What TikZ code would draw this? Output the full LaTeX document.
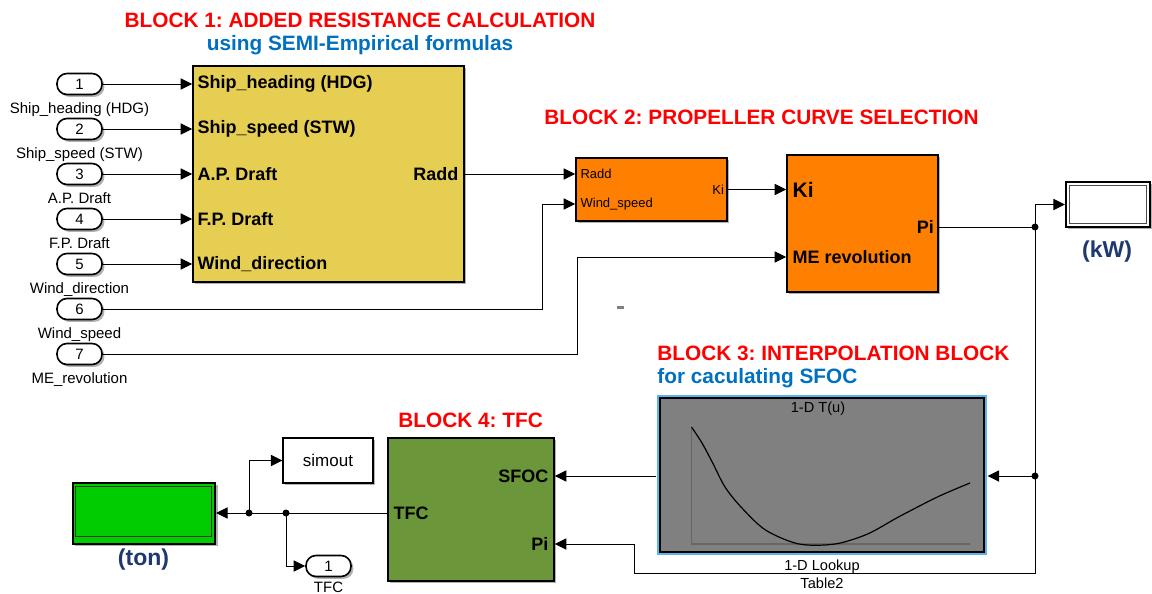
\documentclass[tikz,border=0pt]{standalone}
\usepackage{fontspec}
\setmainfont{Liberation Sans}
\usepackage{xcolor}
\usepackage{tikz}
\usetikzlibrary{arrows.meta, positioning, calc, shadows}
\frenchspacing

\definecolor{blkyellow}{RGB}{230,206,82}
\definecolor{blkorange}{RGB}{255,128,0}
\definecolor{blkgreen}{RGB}{107,151,58}
\definecolor{dispgreen}{RGB}{0,204,0}
\definecolor{lutgray}{RGB}{128,128,128}
\definecolor{lutblue}{RGB}{90,180,236}
\definecolor{titlered}{RGB}{255,0,0}
\definecolor{titleblue}{RGB}{0,112,192}
\definecolor{unitnavy}{RGB}{31,56,110}

\tikzset{
  sig/.style={line width=0.5pt, -{Triangle[length=5.8pt,width=5.6pt]}},
  wire/.style={line width=0.5pt},
  blk/.style={draw=black, line width=0.8pt, inner sep=0pt,
    drop shadow={shadow xshift=1.2pt, shadow yshift=-1.2pt, fill=black!60, opacity=0.5}},
  inport/.style={blk, fill=white, rounded corners=5pt, minimum width=22.5pt,
    minimum height=10.5pt, font=\fontsize{7.5}{9}\selectfont},
  portname/.style={font=\fontsize{7.5}{9}\selectfont, inner sep=0pt},
  blklbl/.style={font=\bfseries\fontsize{9}{10}\selectfont, inner sep=0pt},
  smalllbl/.style={font=\fontsize{6.5}{8}\selectfont, inner sep=0pt},
  title/.style={font=\bfseries\fontsize{10.4}{12}\selectfont, text=titlered, inner sep=0pt},
  subtitle/.style={title, text=titleblue},
  unit/.style={font=\bfseries\fontsize{11.5}{13}\selectfont, text=unitnavy, inner sep=0pt}
}

\begin{document}
\begin{tikzpicture}[x=0.5pt, y=-0.5pt]
		% Canvas
		\path[fill=white] (0,0) rectangle (1152,594);
		
		% Titles
		\node[title] (t1) at (360,20) {BLOCK 1: ADDED RESISTANCE CALCULATION};
		\node[subtitle] (s1) at (360,45) {using SEMI-Empirical formulas};
		\node[title, anchor=west] (t2) at (544,117) {BLOCK 2: PROPELLER CURVE SELECTION};
		\node[title, anchor=west] (t3) at (657,353) {BLOCK 3: INTERPOLATION BLOCK};
		\node[subtitle, anchor=west] (s3) at (657,378) {for caculating SFOC};
		\node[title, anchor=west] (t4) at (398,420) {BLOCK 4: TFC};
		
		% Inports
		\node[inport] (in1) at (79.5,84) {1};
		\node[inport] (in2) at (79.5,129) {2};
		\node[inport] (in3) at (79.5,174) {3};
		\node[inport] (in4) at (79.5,219) {4};
		\node[inport] (in5) at (79.5,264) {5};
		\node[inport] (in6) at (79.5,309) {6};
		\node[inport] (in7) at (79.5,354) {7};
		\node[portname, below=3.5pt of in1] (n1) {Ship\_heading (HDG)};
		\node[portname, below=3.5pt of in2] (n2) {Ship\_speed (STW)};
		\node[portname, below=3.5pt of in3] (n3) {A.P. Draft};
		\node[portname, below=3.5pt of in4] (n4) {F.P. Draft};
		\node[portname, below=3.5pt of in5] (n5) {Wind\_direction};
		\node[portname, below=3.5pt of in6] (n6) {Wind\_speed};
		\node[portname, below=3.5pt of in7] (n7) {ME\_revolution};
		
		% Block 1
		\node[blk, fill=blkyellow, minimum width=135.5pt, minimum height=108pt] (b1) at (328.5,174) {};
		\node[blklbl, anchor=west] (hdg) at ([xshift=2.5pt]b1.west |- in1) {Ship\_heading (HDG)};
		\node[blklbl, anchor=west] (stw) at ([xshift=2.5pt]b1.west |- in2) {Ship\_speed (STW)};
		\node[blklbl, anchor=west] (apd) at ([xshift=2.5pt]b1.west |- in3) {A.P. Draft};
		\node[blklbl, anchor=west] (fpd) at ([xshift=2.5pt]b1.west |- in4) {F.P. Draft};
		\node[blklbl, anchor=west] (wdir) at ([xshift=2.5pt]b1.west |- in5) {Wind\_direction};
		\node[blklbl, anchor=east] (raddout) at ([xshift=-3pt]b1.east) {Radd};
		\draw[sig] (in1) -- (in1 -| b1.west);
		\draw[sig] (in2) -- (in2 -| b1.west);
		\draw[sig] (in3) -- (in3 -| b1.west);
		\draw[sig] (in4) -- (in4 -| b1.west);
		\draw[sig] (in5) -- (in5 -| b1.west);
		
		% Block 2
		\node[blk, fill=blkorange, minimum width=75.5pt, minimum height=31.5pt] (b2a) at (651.5,189.5) {};
		\coordinate (ws) at (542,204);
		\node[smalllbl, anchor=west] (raddin) at ([xshift=2.5pt]b2a.west |- b1.east) {Radd};
		\node[smalllbl, anchor=west] (wsin) at ([xshift=2.5pt]b2a.west |- ws) {Wind\_speed};
		\node[smalllbl, anchor=east] (kiout) at ([xshift=-1.75pt]b2a.east) {Ki};
		\node[blk, fill=blkorange, minimum width=75.5pt, minimum height=68.5pt] (b2b) at (862.5,223.5) {};
		\coordinate (me) at (577,257);
		\coordinate (j1) at (1035,227);
		\node[blklbl, font=\bfseries\fontsize{10.5}{12}\selectfont, anchor=west] (kiin) at ([xshift=3pt]b2b.west |- b2a.east) {Ki};
		\node[blklbl, anchor=west] (mein) at ([xshift=3pt]b2b.west |- me) {ME revolution};
		\node[blklbl, anchor=east] (piout) at ([xshift=-2.25pt]b2b.east |- j1) {Pi};
		\fill[gray] (617,306) rectangle (624,308.5);
		
		% Scope
		\node[blk, fill=white, line width=1pt, minimum width=42pt, minimum height=22.5pt] (scope) at (1108,204.5) {};
		\draw[black!70, line width=0.5pt] ([shift={(4,4)}]scope.north west) rectangle ([shift={(-5,-4.5)}]scope.south east);
		\node[unit] (kw) at (1107,252) {(kW)};
		
		% Signals of blocks 1 and 2
		\draw[sig] (b1.east) -- (b1.east -| b2a.west);
		\draw[sig] (in6) -| (ws) -- (ws -| b2a.west);
		\draw[sig] (in7) -| (me) -- (me -| b2b.west);
		\draw[sig] (b2a.east) -- (b2a.east -| b2b.west);
		\draw[wire] (j1 -| b2b.east) -- (j1);
		\draw[sig] (j1) |- (scope.west);
		\fill (j1) circle (1.75pt);
		
		% Block 3
		\draw[lutblue, line width=1.5pt] (658.5,396.5) rectangle (985.5,553.5);
		\node[draw=black, line width=0.6pt, fill=lutgray, inner sep=0pt, minimum width=162pt, minimum height=77pt] (b3) at (822,475) {};
		\node[font=\fontsize{7.3}{9}\selectfont, inner sep=0pt] (lutname) at (818,409) {1-D T(u)};
		\draw[black!60, line width=0.8pt] (691.5,427) -- (691.5,544) -- (970,544);
		\draw[line width=0.6pt] plot[smooth, tension=0.5] coordinates {(691.5,427) (702,443) (712.7,463) (725,487) (741,507) (765.5,530) (799,544) (835,544) (867.6,534) (899,516.7) (938,496.7) (970,483)};
		\node[font=\fontsize{7.3}{9}\selectfont, inner sep=0pt, align=center] (lutlbl) at (822,574) {1-D Lookup\\Table2};
		
		% Block 4
		\node[blk, fill=blkgreen, minimum width=83pt, minimum height=71.5pt] (b4) at (471,509.5) {};
		\coordinate (j2) at (1035,476);
		\coordinate (lp) at (634,544);
		\coordinate (lb) at (634,573);
		\coordinate (d1) at (286,513);
		\coordinate (d2) at (249,513);
		\node[blklbl, anchor=east] (sfocin) at ([xshift=-3pt]b4.east |- j2) {SFOC};
		\node[blklbl, anchor=east] (piin) at ([xshift=-3pt]b4.east |- lp) {Pi};
		\node[blklbl, anchor=west] (tfcout) at ([xshift=3pt]b4.west |- d1) {TFC};
		
		% Signals of blocks 3 and 4
		\draw[wire] (j1) -- (j2);
		\fill (j2) circle (1.75pt);
		\draw[sig] (j2) -- ([xshift=1.5pt]j2 -| b3.east);
		\draw[sig] ([xshift=-1.5pt]b3.west |- j2) -- (b4.east |- j2);
		\draw[sig] (j2) -- (j2 |- lb) -- (lb) -- (lp) -- (lp -| b4.east);
		
		% Outputs
		\node[blk, fill=white, line width=0.6pt, minimum width=45pt, minimum height=22.5pt, font=\fontsize{8.5}{10}\selectfont] (simout) at (328,460.5) {simout};
		\node[inport] (out1) at (328.5,566) {1};
		\node[portname, below=2pt of out1] (tfcname) {TFC};
		\node[blk, fill=dispgreen, minimum width=71.25pt, minimum height=30.5pt] (disp) at (144,513.5) {};
		\draw[black!80, line width=0.5pt] ([shift={(3.5,4)}]disp.north west) rectangle ([shift={(-4.5,-8)}]disp.south east);
		\node[unit] (ton) at (143.5,560) {(ton)};
		\draw[wire] (b4.west |- d1) -- (d1);
		\draw[sig] (d1) -- (disp.east |- d1);
		\draw[sig] (d2) |- (simout.west);
		\draw[sig] (d1) |- (out1.west);
		\fill (d1) circle (1.75pt);
		\fill (d2) circle (1.75pt);
	\end{tikzpicture}
\end{document}
